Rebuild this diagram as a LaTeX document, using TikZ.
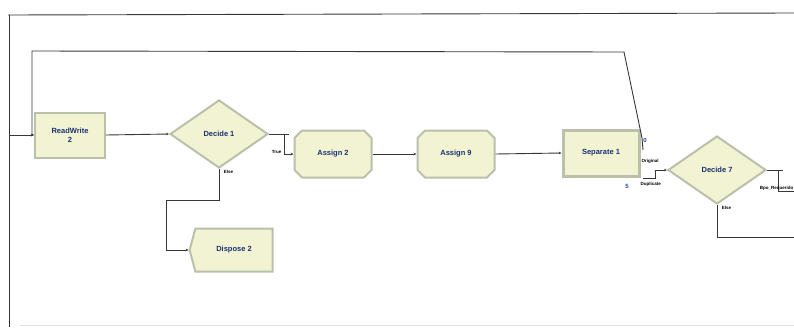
\documentclass[tikz,border=0pt]{standalone}
\usepackage{fontspec}
\setmainfont{Liberation Sans}
\definecolor{modfill}{RGB}{241,243,211}
\definecolor{modedge}{RGB}{186,192,170}
\definecolor{modtext}{RGB}{28,48,112}
\definecolor{wire}{RGB}{55,55,55}
\definecolor{portnum}{RGB}{30,70,170}
\usetikzlibrary{shapes.geometric,shapes.misc,shapes.symbols}
\usetikzlibrary{arrows.meta,positioning}

\begin{document}
\begin{tikzpicture}[x=1pt,y=-1pt,
    module/.style={draw=modedge,line width=2pt,fill=modfill,text=modtext,
        font=\bfseries\fontsize{7.5}{9}\selectfont,align=center,inner sep=0pt},
    procbox/.style={module,rectangle,minimum width=70pt,minimum height=45pt},
    decidebox/.style={module,diamond,minimum width=98pt,minimum height=68pt},
    assignbox/.style={module,chamfered rectangle,chamfered rectangle xsep=4pt,
        chamfered rectangle ysep=4pt,minimum width=77pt,minimum height=47pt},
    separatebox/.style={module,rectangle,line width=3pt,minimum width=76pt,minimum height=46pt},
    disposebox/.style={module,signal,signal to=west,signal pointer angle=150,
        minimum width=83pt,minimum height=43pt},
    wire/.style={draw=wire,line width=0.9pt,-{Stealth[length=3pt,width=2.5pt]}},
    tag/.style={font=\bfseries\fontsize{4.5}{5}\selectfont,inner sep=0.5pt},
    portno/.style={text=portnum,font=\bfseries\fontsize{6}{7}\selectfont,inner sep=0pt}]
    \useasboundingbox (0,0) rectangle (794,327);

    % frame of the view
    \draw[wire,-] (8,15) -- (794,13);
    \draw[wire,-] (9,15) -- (9,327);
    \draw[gray!25] (20,325) -- (794,325);

    \node[procbox] (rw2) at (70,135) {ReadWrite\\2};
    \node[decidebox] (dec1) at (219,134) {Decide 1};
    \node[assignbox] (asg2) at (333,154) {Assign 2};
    \node[assignbox] (asg9) at (456,154) {Assign 9};
    \node[separatebox] (sep1) at (601,153) {Separate 1};
    \node[decidebox] (dec7) at (717,170) {Decide 7};
    \node[disposebox] (disp2) at (234,250) {Dispose 2};

    \coordinate (inlet) at (9,135);
    \coordinate (orig) at (643,150);
    \coordinate (dupl) at (643,178);
    \coordinate (out7) at (794,191);
    \coordinate (else7) at (794,237);

    \draw[wire] (inlet) -- (rw2.west);
    \draw[wire] (orig) -- (642,138) -- (624,52) -- (32,51) |- (rw2.west);
    \draw[wire] (rw2.east) -- (dec1.west);

    \draw[wire,-] (dec1.east) -- ++(20,0);
    \draw[wire] (dec1.east) ++(15,0) |- (asg2.west);
    \node[tag,anchor=east] at (282,152) {True};
    \draw[wire] (dec1.south) node[tag,anchor=north west,xshift=4pt]{Else}
        |- (166,200) |- (disp2.west);

    \draw[wire] (asg2.east) -- (asg9.west);
    \draw[wire] (asg9.east) -- (sep1.west);

    % separate exits
    \node[portno] at (645,140) {0};
    \node[portno] at (627,186) {5};
    \node[tag,anchor=west] at (641,161) {Original};
    \node[tag,anchor=west] at (640,184) {Duplicate};
    \draw[wire] (dupl) -- ++(12,0) |- (dec7.west);

    \draw[wire,-] (dec7.east) -- ++(16,0);
    \draw[wire,-] (dec7.east) ++(11,0) |- (out7);
    \node[tag,anchor=east] at (794,188) {Bpo\_Requerido};
    \draw[wire,-] (dec7.south) node[tag,anchor=north west,xshift=4pt]{Else} |- (else7);
\end{tikzpicture}
\end{document}
